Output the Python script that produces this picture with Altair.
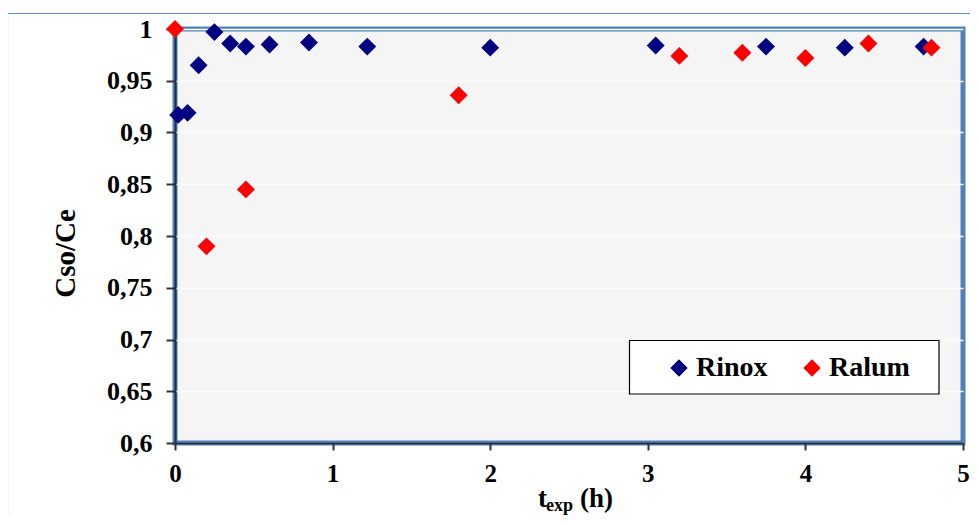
import altair as alt
import pandas as pd

# Data
rinox_t = [0.02, 0.08, 0.15, 0.25, 0.35, 0.45, 0.60, 0.85, 1.22, 2.00, 3.05, 3.75, 4.25, 4.75]
rinox_c = [0.917, 0.919, 0.965, 0.997, 0.986, 0.983, 0.985, 0.987, 0.983, 0.982, 0.984, 0.983, 0.982, 0.983]
ralum_t = [0.0, 0.20, 0.45, 1.80, 3.20, 3.60, 4.00, 4.40, 4.80]
ralum_c = [1.000, 0.790, 0.845, 0.936, 0.974, 0.977, 0.972, 0.986, 0.982]
series = ["Rinox", "Ralum"]
colors = ["#000080", "#FF0000"]
x_ticks = [0, 1, 2, 3, 4, 5]
y_ticks = [0.6, 0.65, 0.7, 0.75, 0.8, 0.85, 0.9, 0.95, 1.0]

df = pd.concat([
    pd.DataFrame({"t": rinox_t, "c": rinox_c, "s": "Rinox"}),
    pd.DataFrame({"t": ralum_t, "c": ralum_c, "s": "Ralum"}),
])

FONT = "Liberation Serif"
W, H = 788, 414

# outer light-blue frame (decoration)
outer = alt.Chart(pd.DataFrame({"a": [0]})).mark_rect(
    fill=None, stroke="#5B8FD6", strokeWidth=1.2, clip=False
).encode(x=alt.value(-167.5), x2=alt.value(W + 300), y=alt.value(-15.5), y2=alt.value(H + 300))

# legend box (decoration)
legbox = alt.Chart(pd.DataFrame({"a": [0]})).mark_rect(
    fill="white", stroke="black", strokeWidth=1.2
).encode(x=alt.value(454.5), x2=alt.value(764), y=alt.value(311.5), y2=alt.value(365))

points = alt.Chart(df).mark_point(
    shape="diamond", filled=True, opacity=1, size=320, clip=False
).encode(
    x=alt.X("t:Q", scale=alt.Scale(domain=[0, 5], nice=False),
            axis=alt.Axis(values=x_ticks, title=None, labelFont=FONT, labelFontSize=25,
                          labelFontWeight="bold", labelColor="black", labelPadding=11,
                          labelFlush=False, labelOverlap=False, labelBound=False,
                          tickSize=7, tickWidth=2, tickColor="#333333", grid=False,
                          domainColor="#1F2D45", domainWidth=2, format="d")),
    y=alt.Y("c:Q", scale=alt.Scale(domain=[0.6, 1.0], nice=False),
            axis=alt.Axis(values=y_ticks, title="Cso/Ce", labelFont=FONT, labelFontSize=26,
                          labelFontWeight="bold", labelColor="black", labelPadding=14,
                          labelFlush=False, labelOverlap=False,
                          labelExpr="replace(format(datum.value, '.2~f'), '.', ',')",
                          tickSize=9, tickWidth=2, tickColor="#333333",
                          gridColor="white", gridWidth=1.5,
                          domainColor="#1F2D45", domainWidth=2,
                          titleFont=FONT, titleFontSize=29, titleFontWeight="bold",
                          titleColor="black", titleAngle=270, titleX=-110, titleY=224,
                          titleAlign="center", titleBaseline="middle")),
    color=alt.Color("s:N", scale=alt.Scale(domain=series, range=colors),
                    legend=alt.Legend(title=None, orient="none", legendX=490, legendY=325,
                                      direction="horizontal", columns=2, columnPadding=30,
                                      symbolType="diamond", symbolSize=300, symbolOpacity=1,
                                      symbolStrokeWidth=0, labelFont=FONT, labelFontSize=28,
                                      labelFontWeight="bold", labelColor="black",
                                      labelOffset=3, padding=0, symbolLimit=0)),
)

tdf = pd.DataFrame({"a": [0]})
t_main = alt.Chart(tdf).mark_text(text="t", font=FONT, fontSize=27, fontWeight="bold",
                                  align="left", baseline="alphabetic", color="black", clip=False
                                  ).encode(x=alt.value(363), y=alt.value(478))
t_sub = alt.Chart(tdf).mark_text(text="exp", font=FONT, fontSize=18, fontWeight="bold",
                                 align="left", baseline="alphabetic", color="black", clip=False
                                 ).encode(x=alt.value(371), y=alt.value(482))
t_unit = alt.Chart(tdf).mark_text(text="(h)", font=FONT, fontSize=27, fontWeight="bold",
                                  align="left", baseline="alphabetic", color="black", clip=False
                                  ).encode(x=alt.value(405), y=alt.value(478))

chart = alt.layer(outer, legbox, points, t_main, t_sub, t_unit).properties(
    width=W, height=H, autosize="none",
    padding={"left": 167, "top": 21, "right": 7, "bottom": 72},
).configure_view(
    fill="#F5F5F5", stroke="#4F81BD", strokeWidth=5
).configure_axis(zindex=0)

chart.save("out.html", embed_options={"renderer": "svg", "actions": False})
